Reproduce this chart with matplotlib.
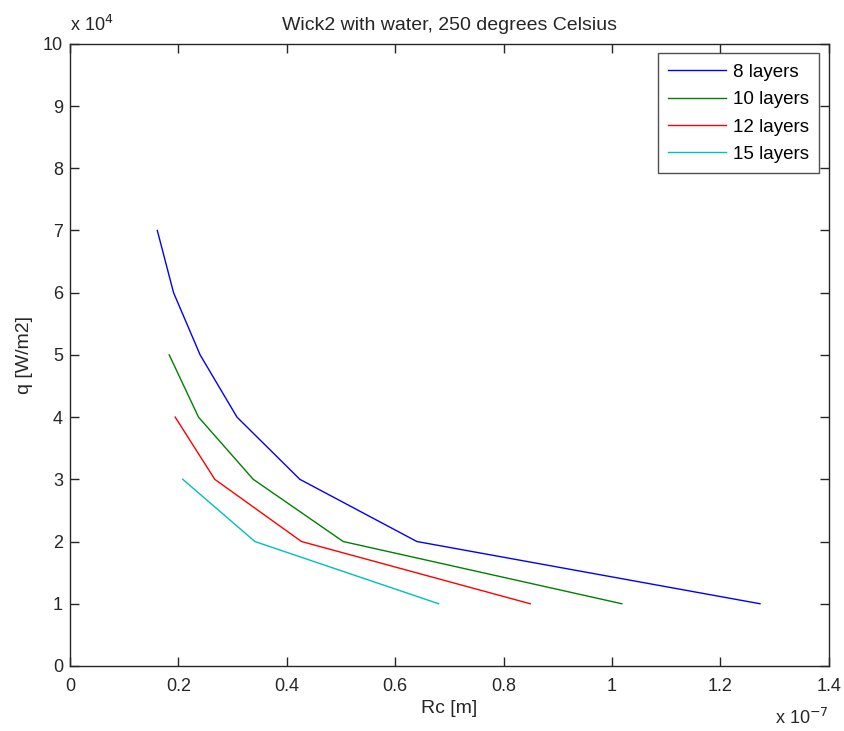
import matplotlib
matplotlib.use('Agg')
import matplotlib.pyplot as plt
from matplotlib.ticker import FuncFormatter

plt.rcParams['font.family'] = ['Liberation Sans', 'DejaVu Sans']

# q [W/m2] against Rc [m]
q8 = [7e4, 6e4, 5e4, 4e4, 3e4, 2e4, 1e4]
rc8 = [0.161e-7, 0.191e-7, 0.240e-7, 0.308e-7, 0.424e-7, 0.640e-7, 1.273e-7]
q10 = [5e4, 4e4, 3e4, 2e4, 1e4]
rc10 = [0.183e-7, 0.237e-7, 0.338e-7, 0.504e-7, 1.018e-7]
q12 = [4e4, 3e4, 2e4, 1e4]
rc12 = [0.194e-7, 0.267e-7, 0.427e-7, 0.849e-7]
q15 = [3e4, 2e4, 1e4]
rc15 = [0.208e-7, 0.341e-7, 0.680e-7]

labels = ['8 layers', '10 layers', '12 layers', '15 layers']
colors = ['#0000ff', '#008000', '#ff0000', '#00bfbf']

xticks = [0, 0.2e-7, 0.4e-7, 0.6e-7, 0.8e-7, 1.0e-7, 1.2e-7, 1.4e-7]
yticks = [i * 1e4 for i in range(11)]

TXT = '#262626'
fs = 13
fs_big = 14

fig = plt.figure(figsize=(8.44, 7.31), dpi=100)
ax = fig.add_axes([0.083, 0.089, 0.899, 0.851])

for rc, q, lbl, c in zip([rc8, rc10, rc12, rc15], [q8, q10, q12, q15], labels, colors):
    ax.plot(rc, q, color=c, linewidth=1.0, label=lbl)

ax.set_xlim(0, 1.4e-7)
ax.set_ylim(0, 1e5)
ax.set_xticks(xticks)
ax.set_yticks(yticks)
ax.xaxis.set_major_formatter(FuncFormatter(lambda v, p: f'{v / 1e-7:g}'))
ax.yaxis.set_major_formatter(FuncFormatter(lambda v, p: f'{v / 1e4:g}'))
ax.tick_params(direction='in', length=6.5, width=1, top=True, right=True,
               labelsize=fs, colors=TXT, pad=5)
ax.tick_params(axis='x', pad=8.5)
for s in ax.spines.values():
    s.set_color(TXT)
    s.set_linewidth(1)

ax.set_xlabel('Rc [m]', fontsize=fs_big, color=TXT, labelpad=4)
ax.set_ylabel('q [W/m2]', fontsize=fs_big, color=TXT, labelpad=7)
ax.set_title('Wick2 with water, 250 degrees Celsius', fontsize=fs_big,
             color=TXT, pad=10)

ax.text(0.0, 1.014, r'x 10$^{4}$', transform=ax.transAxes, fontsize=fs,
        color=TXT, ha='left', va='bottom')
ax.text(1.0, -0.068, r'x 10$^{-7}$', transform=ax.transAxes, fontsize=fs,
        color=TXT, ha='right', va='top')

leg = ax.legend(loc='upper right', fontsize=13.5, frameon=True, fancybox=False,
                handlelength=3.1, handletextpad=0.37, borderaxespad=0.5,
                labelspacing=0.55, borderpad=0.55)
leg.get_frame().set_edgecolor(TXT)
leg.get_frame().set_linewidth(1)

fig.savefig('out.png', dpi=100, facecolor='white')
